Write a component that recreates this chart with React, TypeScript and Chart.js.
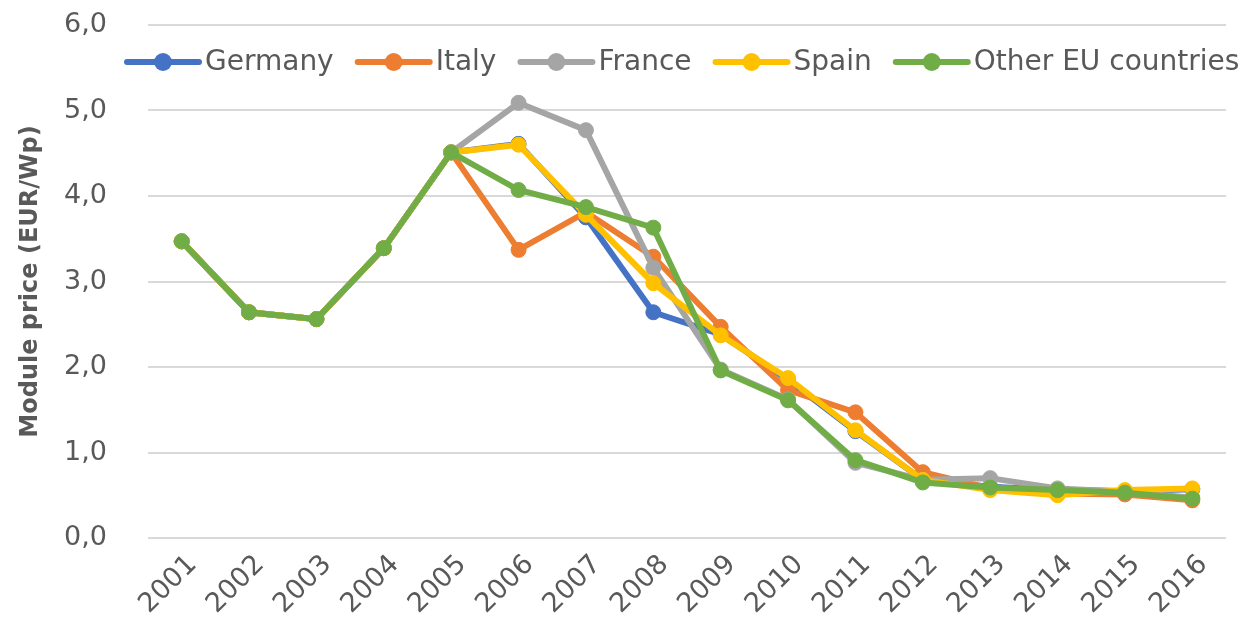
import React, { useEffect, useRef } from "react";
import { Chart, registerables } from "chart.js";

Chart.register(...registerables);

const years = ["2001","2002","2003","2004","2005","2006","2007","2008","2009","2010","2011","2012","2013","2014","2015","2016"];
const germany = [3.47, 2.64, 2.56, 3.39, 4.51, 4.61, 3.75, 2.64, 2.38, 1.85, 1.25, 0.68, 0.60, 0.56, 0.55, 0.57];
const italy =   [3.47, 2.64, 2.56, 3.39, 4.51, 3.37, 3.81, 3.29, 2.47, 1.73, 1.47, 0.77, 0.58, 0.52, 0.51, 0.44];
const france =  [3.47, 2.64, 2.56, 3.39, 4.51, 5.09, 4.77, 3.16, 1.97, 1.62, 0.88, 0.68, 0.70, 0.58, 0.54, 0.47];
const spain =   [3.47, 2.64, 2.56, 3.39, 4.51, 4.60, 3.78, 2.98, 2.37, 1.87, 1.26, 0.68, 0.56, 0.50, 0.56, 0.58];
const otherEU = [3.47, 2.64, 2.56, 3.39, 4.51, 4.07, 3.87, 3.63, 1.96, 1.61, 0.91, 0.65, 0.59, 0.56, 0.53, 0.46];

const seriesNames = ["Germany", "Italy", "France", "Spain", "Other EU countries"];
const seriesColors = ["#4472C4", "#ED7D31", "#A5A5A5", "#FFC000", "#70AD47"];
const seriesData = [germany, italy, france, spain, otherEU];

const FONT = "'DejaVu Sans', sans-serif";
const TEXT = "#595959";

const legendPlugin = {
  id: "customLegend",
  afterDatasetsDraw(chart: any) {
    const ctx = chart.ctx;
    ctx.save();
    ctx.font = `28px ${FONT}`;
    ctx.textBaseline = "middle";
    ctx.textAlign = "left";
    let x = 127;
    const y = 62;
    seriesNames.forEach((name, i) => {
      const c = seriesColors[i];
      ctx.strokeStyle = c;
      ctx.lineWidth = 6;
      ctx.lineCap = "round";
      ctx.beginPath();
      ctx.moveTo(x, y);
      ctx.lineTo(x + 72, y);
      ctx.stroke();
      ctx.fillStyle = c;
      ctx.beginPath();
      ctx.arc(x + 36, y, 9, 0, Math.PI * 2);
      ctx.fill();
      ctx.fillStyle = TEXT;
      ctx.fillText(name, x + 78, y + 1);
      x += 78 + ctx.measureText(name).width + 24;
    });
    ctx.restore();
  },
};

export default function App() {
  const ref = useRef<HTMLCanvasElement | null>(null);
  useEffect(() => {
    if (!ref.current) return;
    const chart = new Chart(ref.current, {
      type: "line",
      data: {
        labels: years,
        datasets: seriesData.map((d, i) => ({
          label: seriesNames[i],
          data: d,
          borderColor: seriesColors[i],
          backgroundColor: seriesColors[i],
          pointBackgroundColor: seriesColors[i],
          pointBorderColor: seriesColors[i],
          borderWidth: 6,
          pointRadius: 7.5,
          pointBorderWidth: 1,
          tension: 0,
          order: seriesNames.length - i,
        })),
      },
      options: {
        responsive: false,
        animation: false,
        layout: { padding: { top: 25, right: 19, left: 0, bottom: 0 } },
        plugins: { legend: { display: false }, tooltip: { enabled: false } },
        scales: {
          x: {
            offset: true,
            grid: { display: false },
            border: { display: false },
            ticks: {
              autoSkip: false,
              maxRotation: 45,
              minRotation: 45,
              padding: 3,
              labelOffset: 11,
              color: TEXT,
              font: { family: FONT, size: 27 },
            },
            afterFit: (s: any) => {
              s.height = 91;
              s.paddingLeft = 0; s.paddingRight = 0; s.paddingTop = 0; s.paddingBottom = 0;
            },
          },
          y: {
            min: 0,
            max: 6,
            grid: { color: "#D9D9D9", lineWidth: 2, drawTicks: false },
            border: { display: false },
            ticks: {
              stepSize: 1,
              padding: 41,
              color: TEXT,
              font: { family: FONT, size: 27 },
              callback: (v: any) => Number(v).toFixed(1).replace(".", ","),
            },
            title: {
              display: true,
              text: "Module price (EUR/Wp)",
              color: TEXT,
              font: { family: FONT, size: 24, weight: "bold" },
              padding: { top: 16, bottom: 0 },
            },
            afterFit: (s: any) => {
              s.width = 148;
              s.paddingLeft = 0; s.paddingRight = 0; s.paddingTop = 0; s.paddingBottom = 0;
            },
          },
        },
      },
      plugins: [legendPlugin],
    });
    return () => chart.destroy();
  }, []);
  return (
    <div style={{ position: "fixed", left: 0, top: 0, width: 1245, height: 629, background: "#fff" }}>
      <canvas ref={ref} width={1245} height={629} />
    </div>
  );
}
